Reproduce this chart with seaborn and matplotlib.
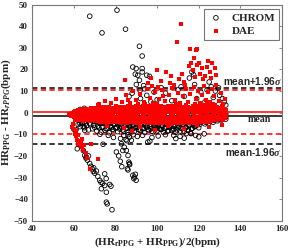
import matplotlib
matplotlib.use("Agg")
import matplotlib.pyplot as plt
import seaborn as sns
import pandas as pd

# ---------------- data ----------------
# DAE dense band: two staggered column sets with several y layers
dae_band_xa = [60, 61, 62, 63, 64, 65, 66, 67, 68, 69, 70, 71, 72, 73, 74, 75, 76, 77, 78, 79,
               80, 81, 82, 83, 84, 85, 86, 87, 88, 89, 90, 91, 92, 93, 94, 95, 96, 97, 98, 99,
               100, 101, 102, 103, 104, 105, 106, 107, 108, 109, 110, 111, 112, 113, 114, 115, 116, 117, 118, 119,
               120, 121, 122, 123, 124, 125, 126, 127, 128, 129, 130, 131, 132, 133]
dae_band_a1 = [0.3, 0.8, 1.2, 0.5, 1.5, 0.9, 1.8, 1.1, 2.0, 1.4,
               2.2, 1.0, 1.9, 2.6, 1.3, 2.4, 1.7, 2.8, 1.5, 2.3,
               2.9, 1.6, 2.5, 1.2, 2.7, 2.0, 3.1, 1.8, 2.6, 2.2,
               3.0, 1.7, 2.4, 2.9, 1.5, 2.6, 3.2, 2.0, 2.7, 1.9,
               2.8, 2.3, 3.3, 1.8, 2.5, 3.0, 2.1, 2.9, 1.6, 2.6,
               3.1, 2.2, 2.8, 1.9, 3.4, 2.4, 2.0, 3.0, 2.6, 3.3,
               2.1, 2.9, 3.5, 2.3, 2.7, 3.1, 2.0, 2.8, 3.4, 2.5,
               2.2, 2.9, 1.8, 1.4]
dae_band_a2 = [-0.8, -0.5, -1.2, -0.3, -0.9, 0.1, -0.6, -1.0, 0.2, -0.4,
               -0.7, 0.3, -0.5, -0.1, 0.4, -0.8, 0.0, -0.3, 0.5, -0.6,
               0.2, -0.4, 0.6, -0.2, 0.0, 0.7, -0.5, 0.3, -0.1, 0.8,
               -0.3, 0.5, 0.1, -0.6, 0.9, 0.0, -0.2, 0.6, -0.4, 0.4,
               0.0, 0.7, -0.3, 0.5, -0.1, 0.9, 0.2, -0.5, 0.6, 0.1,
               -0.2, 0.8, 0.3, -0.4, 0.6, 0.0, 1.0, -0.1, 0.4, 0.7,
               0.2, -0.3, 0.9, 0.5, -0.2, 0.6, 1.1, 0.0, 0.8, 0.3,
               0.5, -0.2, 0.4, 0.0]
dae_band_a3 = [-2.0, -2.4, -1.8, -2.8, -2.2, -1.6, -3.0, -2.3, -1.9, -2.9,
               -2.5, -3.3, -2.0, -3.0, -2.6, -3.6, -2.2, -3.1, -2.7, -3.8,
               -2.4, -3.5, -2.9, -4.0, -2.6, -3.3, -3.9, -2.8, -4.2, -3.1,
               -3.7, -2.7, -4.1, -3.2, -3.8, -4.4, -2.9, -3.5, -4.0, -3.3,
               -4.3, -3.0, -3.7, -4.5, -3.2, -3.9, -2.8, -4.1, -3.4, -4.6,
               -3.1, -3.8, -4.2, -2.9, -3.6, -4.4, -3.3, -3.9, -2.7, -3.5,
               -4.0, -3.2, -2.6, -3.7, -3.0, -2.4, -3.4, -2.8, -2.2, -3.1,
               -2.5, -1.9, -2.7, -1.5]
dae_band_xb = [60.5, 61.5, 62.5, 63.5, 64.5, 65.5, 66.5, 67.5, 68.5, 69.5,
               70.5, 71.5, 72.5, 73.5, 74.5, 75.5, 76.5, 77.5, 78.5, 79.5,
               80.5, 81.5, 82.5, 83.5, 84.5, 85.5, 86.5, 87.5, 88.5, 89.5,
               90.5, 91.5, 92.5, 93.5, 94.5, 95.5, 96.5, 97.5, 98.5, 99.5,
               100.5, 101.5, 102.5, 103.5, 104.5, 105.5, 106.5, 107.5, 108.5, 109.5,
               110.5, 111.5, 112.5, 113.5, 114.5, 115.5, 116.5, 117.5, 118.5, 119.5,
               120.5, 121.5, 122.5, 123.5, 124.5, 125.5, 126.5, 127.5, 128.5, 129.5,
               130.5, 131.5, 132.5]
dae_band_b1 = [0.6, 0.0, 0.9, 0.3, 1.0, 0.4, 1.2, 0.5, 1.3, 0.7,
               1.1, 0.6, 1.5, 0.8, 1.7, 1.0, 1.4, 0.9, 1.9, 1.2,
               1.6, 1.0, 1.8, 1.3, 2.1, 1.1, 1.5, 2.0, 1.2, 1.7,
               1.4, 2.1, 1.0, 1.8, 1.3, 2.2, 1.6, 1.1, 2.0, 1.5,
               1.2, 1.9, 1.5, 2.3, 1.1, 1.7, 2.4, 1.3, 2.0, 1.6,
               1.8, 1.3, 2.2, 1.5, 1.0, 2.1, 1.6, 2.3, 1.4, 1.9,
               1.5, 2.0, 1.7, 1.2, 2.2, 1.6, 1.9, 1.3, 2.0, 1.7,
               1.4, 1.0, 0.9]
dae_band_b2 = [-1.5, -1.1, -1.9, -1.3, -1.6, -1.0, -1.8, -1.4, -1.2, -2.0,
               -1.6, -2.2, -1.3, -1.9, -1.5, -2.4, -1.7, -2.1, -1.4, -2.6,
               -1.8, -2.3, -1.5, -2.7, -2.0, -1.6, -2.5, -1.9, -2.8, -2.2,
               -1.7, -2.6, -2.1, -1.5, -2.9, -2.3, -1.8, -2.7, -2.0, -2.4,
               -1.9, -2.8, -2.2, -1.6, -2.5, -3.0, -2.1, -1.7, -2.6, -2.3,
               -2.0, -1.5, -2.7, -2.2, -1.8, -2.4, -2.9, -1.6, -2.1, -2.5,
               -1.7, -2.3, -1.9, -1.4, -2.0, -1.6, -2.2, -1.5, -1.8, -1.3,
               -1.6, -1.2, -0.9]
dae_band_b3 = [-3.2, -2.6, -3.5, -2.0, -3.8, -2.9, -3.3, -3.9, -2.7, -3.6,
               -4.0, -3.0, -4.3, -3.4, -4.1, -3.7, -4.5, -3.2, -4.2, -3.5,
               -4.4, -3.8, -4.6, -3.3, -4.1, -4.7, -3.6, -4.3, -3.9, -4.8,
               -4.2, -4.9, -3.7, -4.5, -4.0, -4.8, -4.3, -5.0, -3.9, -4.6,
               -5.0, -4.1, -4.7, -3.8, -4.9, -4.4, -5.1, -3.9, -4.6, -4.2,
               -4.8, -4.3, -5.0, -4.5, -4.0, -4.7, -4.2, -4.9, -4.4, -3.8,
               -4.3, -3.7, -4.5, -3.9, -4.1, -3.5, -3.8, -3.3, -3.6, -3.0,
               -2.8, -3.2, -2.5]
# DAE scattered points outside the band
dae_out_x = [111.5, 109.4, 115.8, 118.6, 119.2, 117.5, 116.5,
             115.5, 117.0, 119.0, 120.5, 121.5, 123.0, 124.0, 125.5, 126.5, 127.9, 122.0, 118.0, 126.0, 128.5, 120.0, 124.5,
             99.8, 104.3, 84.4, 97.0, 102.0, 106.5, 108.0, 100.5, 95.5, 110.5, 113.0, 112.0,
             72.0, 71.6, 75.0, 78.0, 80.0, 83.0, 85.0, 87.0, 88.5, 90.0, 92.0, 93.5, 95.0, 96.5, 98.0, 99.0,
             101.0, 102.5, 104.0, 105.5, 107.0, 108.5, 110.0, 111.0, 112.5, 114.0, 115.0, 116.0, 117.5, 118.5,
             119.5, 120.5, 121.5, 122.5, 123.5, 124.5, 125.5, 126.5, 127.5, 128.5, 129.5, 130.5, 131.5, 132.5,
             106.0, 113.5, 103.0, 97.5, 91.0, 86.0, 94.0, 100.0, 109.0, 118.0, 124.0, 127.0,
             59.6, 59.2, 60.0, 60.4, 60.8, 61.0, 61.5, 62.0, 62.3, 62.8, 63.2, 63.5, 64.0, 64.4, 65.0, 63.8, 61.8,
             68.0, 71.6, 67.5, 66.5, 65.8,
             76.0, 84.0, 92.0, 105.0, 113.0, 119.0, 125.0, 88.0, 99.0, 131.0, 58.5, 59.0, 57.8]
dae_out_y = [40.9, 32.9, 29.6, 28.8, 29.5, 25.4, 23.0,
             21.5, 19.5, 22.0, 18.0, 20.5, 17.0, 21.0, 19.0, 22.8, 20.8, 15.5, 16.5, 16.0, 17.5, 23.0, 24.0,
             19.9, 18.8, 15.0, 16.0, 14.5, 17.0, 13.0, 12.0, 13.5, 15.5, 14.0, 18.0,
             4.0, 3.4, 5.5, 4.5, 6.5, 5.0, 8.0, 4.5, 10.0, 6.0, 8.5, 5.0, 11.0, 7.0, 4.5, 9.5,
             6.5, 10.5, 5.5, 8.0, 11.5, 6.0, 9.0, 4.5, 7.5, 11.0, 5.0, 8.5, 12.0, 6.5,
             10.0, 4.5, 8.0, 12.5, 6.0, 9.5, 5.0, 11.0, 7.5, 13.0, 5.5, 9.0, 4.0, 6.5,
             13.5, 13.0, 7.5, 12.5, 4.0, 6.0, 3.8, 4.0, 4.0, 4.0, 3.8, 4.2,
             -5.1, -6.5, -7.5, -9.7, -8.5, -11.0, -12.5, -10.5, -13.5, -14.4, -15.5, -13.0, -16.0, -17.5, -15.0, -12.0, -14.5,
             -14.4, -21.3, -26.0, -21.0, -18.5,
             -6.0, -7.0, -6.5, -6.0, -7.5, -5.8, -6.5, -8.5, -7.8, -5.5, -1.5, 0.0, -0.8]

# CHROM core cloud
chrom_core_xa = [62, 63, 64, 65, 66, 67, 68, 69, 70, 71, 72, 73, 74, 75, 76, 77, 78, 79, 80, 81,
                 82, 83, 84, 85, 86, 87, 88, 89, 90, 91, 92, 93, 94, 95, 96, 97, 98, 99, 100, 101,
                 102, 103, 104, 105, 106, 107, 108, 109, 110, 111, 112, 113, 114, 115, 116, 117, 118, 119, 120, 121,
                 122, 123, 124, 125, 126, 127, 128, 129, 130, 131, 132, 133]
chrom_core_c1 = [-2.0, -3.5, -1.0, -4.5, -2.5, -1.5, -3.0, -2.0, -4.0, -3.0,
                 -4.5, -3.5, -5.0, -4.0, -5.5, -3.8, -4.6, -5.2, -4.0, -5.6,
                 -4.8, -5.4, -4.2, -5.8, -4.5, -5.1, -6.0, -4.4, -5.3, -4.9,
                 -5.7, -4.3, -5.0, -6.2, -4.7, -5.5, -4.1, -5.9, -4.6, -5.2,
                 -6.1, -4.8, -5.4, -4.2, -5.8, -5.0, -6.3, -4.5, -5.6, -5.1,
                 -4.4, -5.9, -4.9, -5.3, -3.8, -4.6, -3.2, -2.8, -3.5, -2.5,
                 -2.0, -3.0, -1.8, -2.6, -1.5, -2.2, -1.2, -2.8, -1.6, -2.4,
                 -1.0, -2.0]
chrom_core_c2 = [-5.5, -6.5, -5.0, -7.0, -6.0, -8.0, -5.5, -7.5, -6.8, -8.5,
                 -7.0, -9.0, -6.5, -8.2, -7.4, -9.3, -6.8, -8.0, -7.2, -8.8,
                 -7.6, -6.9, -8.5, -7.1, -9.0, -6.6, -7.9, -8.7, -6.4, -7.7,
                 -8.3, -7.0, -9.2, -6.7, -8.0, -7.5, -8.9, -6.9, -8.4, -7.3,
                 -7.8, -9.0, -7.1, -8.6, -6.8, -8.2, -7.5, -9.1, -7.0, -8.5,
                 -7.4, -8.8, -6.9, -8.1, -9.5, -7.2, -6.5, -5.8, -7.0, -4.5,
                 -4.0, -5.2, -3.6, -4.8, -3.2, -4.4, -3.0, -3.8, -2.7, -3.4,
                 -2.5, -3.0]
chrom_core_c3 = [0.5, 1.5, -0.5, 2.0, 1.0, 0.0, 1.6, 1.2, -0.8, 1.0,
                 0.2, 0.8, -0.2, 0.5, -0.3, 0.9, -0.6, 0.4, -0.1, 1.0,
                 -0.4, 0.3, 0.6, 0.9, -0.1, 0.6, 0.4, 1.0, -0.7, 0.2,
                 0.8, 0.2, 1.1, -0.5, 0.4, 0.7, 0.9, -0.3, 0.2, 0.5,
                 1.0, -0.2, 0.5, 0.8, 1.2, -0.6, 0.3, 0.9, 0.3, 1.1,
                 0.6, 0.7, -0.4, 0.3, 1.2, 0.0, 0.6, 0.4, 0.9, 0.2,
                 0.5, -0.5, 0.8, 0.3, -0.8, 0.4, 0.1, 0.7, -0.3, 0.4,
                 0.2, -0.6]
chrom_core_xb = [62.5, 63.5, 64.5, 65.5, 66.5, 67.5, 68.5, 69.5, 70.5, 71.5,
                 72.5, 73.5, 74.5, 75.5, 76.5, 77.5, 78.5, 79.5, 80.5, 81.5,
                 82.5, 83.5, 84.5, 85.5, 86.5, 87.5, 88.5, 89.5, 90.5, 91.5,
                 92.5, 93.5, 94.5, 95.5, 96.5, 97.5, 98.5, 99.5, 100.5, 101.5,
                 102.5, 103.5, 104.5, 105.5, 106.5, 107.5, 108.5, 109.5, 110.5, 111.5,
                 112.5, 113.5, 114.5, 115.5, 116.5, 117.5, 118.5, 119.5, 120.5, 121.5,
                 122.5, 123.5, 124.5, 125.5, 126.5, 127.5, 128.5, 129.5, 130.5, 131.5,
                 132.5]
chrom_core_c4 = [-3.0, -4.2, -2.5, -5.2, -3.6, -4.8, -2.8, -5.8, -3.4, -6.2,
                 -5.0, -6.8, -4.2, -7.5, -5.6, -6.4, -7.8, -5.2, -6.9, -4.6,
                 -6.5, -8.0, -5.5, -7.2, -6.0, -8.4, -5.7, -7.0, -6.6, -8.1,
                 -6.1, -7.4, -5.3, -7.9, -6.4, -8.6, -5.8, -7.1, -6.3, -7.7,
                 -5.9, -7.3, -6.7, -8.3, -5.6, -7.6, -6.0, -8.0, -6.6, -7.2,
                 -5.7, -6.9, -8.2, -6.1, -7.4, -5.0, -6.3, -4.2, -5.5, -3.6,
                 -3.3, -4.5, -2.6, -3.9, -2.3, -3.5, -2.0, -3.2, -1.8, -2.6,
                 -1.4]
# CHROM scattered points outside the core
chrom_out_x = [67.6, 73.5, 80.7, 84.8, 91.5, 92.8,
               88.3, 89.9, 92.8, 92.8, 90.7, 89.5, 91.5, 96.3, 91.8, 93.5, 94.0, 90.0, 88.0, 95.0, 86.5, 92.0, 97.0, 95.0,
               116.7, 117.5, 115.5, 125.0, 126.0, 118.0, 110.0, 104.0, 121.0, 128.0, 131.4, 132.2, 130.0, 127.0,
               113.0, 100.0, 107.0, 123.0, 119.0, 102.0, 98.5, 111.5, 124.0, 129.5, 133.0,
               60.0, 61.0, 65.2, 62.9, 64.5, 74.0, 82.4, 86.7, 87.6, 95.5, 96.5, 84.0, 85.5, 88.5, 90.5, 93.0,
               97.5, 100.5, 104.0, 108.0, 111.0, 114.0, 116.3, 118.5, 120.0, 122.6, 109.0, 113.0, 76.5, 79.0, 72.5,
               61.6, 65.2, 65.8, 66.5, 66.0, 67.6, 68.2, 68.8, 69.3, 70.0, 69.5, 70.8, 71.5, 72.4, 73.0, 73.8,
               73.2, 74.8, 74.8, 75.5, 77.2, 77.8, 75.6, 76.0, 78.3, 75.6, 67.0, 64.5, 63.5,
               82.8, 83.5, 84.2, 85.2, 86.0, 86.4, 86.8, 86.0, 85.7, 86.7, 88.3, 89.1, 89.9, 88.8, 89.5,
               80.4, 81.5, 82.3, 83.0, 85.0, 86.0]
chrom_out_y = [44.6, 36.9, 47.4, 38.6, 30.7, 26.2,
               21.1, 20.4, 20.4, 18.8, 17.3, 17.8, 15.0, 16.8, 10.3, 12.5, 11.0, 13.0, 9.0, 8.0, 7.5, 6.5, 5.0, 17.3,
               18.8, 17.5, 16.0, 14.2, 12.0, 13.0, 10.5, 9.0, 9.5, 10.0, 6.5, 4.9, 8.0, 7.0,
               7.5, 6.0, 5.5, 5.0, 6.5, 11.5, 9.5, 12.0, 10.5, 11.5, 3.5,
               -7.7, -7.9, -8.2, -5.0, -6.5, -14.6, -12.0, -11.3, -12.8, -13.6, -13.2, -10.5, -13.0, -10.2, -11.0, -10.5,
               -11.5, -10.8, -10.2, -10.5, -11.0, -9.7, -9.7, -10.5, -11.2, -9.8, -12.0, -11.8, -10.5, -11.5, -10.0,
               -16.7, -19.8, -21.0, -22.0, -20.5, -23.5, -24.8, -26.0, -27.2, -28.0, -25.5, -27.0, -29.5, -31.3, -32.2, -32.7,
               -35.2, -33.7, -28.3, -30.5, -33.2, -34.0, -41.4, -42.2, -44.9, -36.8, -20.0, -17.5, -15.5,
               -14.4, -17.5, -16.0, -17.5, -19.8, -22.9, -24.0, -26.5, -25.9, -23.6, -29.0, -29.8, -31.3, -30.5, -28.5,
               -18.2, -20.0, -22.5, -25.0, -12.5, -10.2]

# Bland-Altman reference lines (mean and mean +/- 1.96 sigma)
chrom_mean, chrom_upper, chrom_lower = -1.55, 11.5, -14.65
dae_mean, dae_upper, dae_lower = 0.4, 10.45, -9.9

series_names = ["CHROM", "DAE"]
x_ticks = [40, 60, 80, 100, 120, 140, 160]
y_ticks = [-50, -40, -30, -20, -10, 0, 10, 20, 30, 40, 50]

# ---------------- assemble ----------------
chrom_x = chrom_core_xa * 3 + chrom_core_xb + chrom_out_x
chrom_y = chrom_core_c1 + chrom_core_c2 + chrom_core_c3 + chrom_core_c4 + chrom_out_y
dae_x = dae_band_xa * 3 + dae_band_xb * 3 + dae_out_x
dae_y = dae_band_a1 + dae_band_a2 + dae_band_a3 + dae_band_b1 + dae_band_b2 + dae_band_b3 + dae_out_y
chrom_df = pd.DataFrame({"x": chrom_x, "y": chrom_y})
dae_df = pd.DataFrame({"x": dae_x, "y": dae_y})

# ---------------- style ----------------
sns.set_style("white")
plt.rcParams["font.family"] = ["Liberation Serif", "DejaVu Serif"]
plt.rcParams["mathtext.fontset"] = "custom"
plt.rcParams["mathtext.rm"] = "Liberation Serif:bold"
plt.rcParams["mathtext.bf"] = "Liberation Serif:bold"
plt.rcParams["mathtext.it"] = "Liberation Serif:bold:italic"

fig = plt.figure(figsize=(2.91, 2.52), dpi=100)
ax = fig.add_axes([0.111, 0.124, 0.858, 0.858])

for val, col, ls in [(chrom_mean, "black", "-"), (dae_mean, "red", "-"),
                     (chrom_upper, "black", "--"), (chrom_lower, "black", "--"),
                     (dae_upper, "red", "--"), (dae_lower, "red", "--")]:
    ax.axhline(val, color=col, lw=1.1, ls=ls, dashes=(3.5, 2.2) if ls == "--" else (None, None), zorder=1)

sns.scatterplot(data=chrom_df, x="x", y="y", ax=ax, marker="o", s=11,
                facecolor="none", edgecolor="black", linewidth=0.6, zorder=2,
                label=series_names[0])
sns.scatterplot(data=dae_df, x="x", y="y", ax=ax, marker="s", s=5.5,
                color="red", linewidth=0, zorder=3, label=series_names[1])

ax.set_xlim(40, 160)
ax.set_ylim(-50, 50)
ax.set_xticks(x_ticks)
ax.set_yticks(y_ticks)
for lab in ax.get_xticklabels() + ax.get_yticklabels():
    lab.set_fontweight("bold")
    lab.set_fontsize(6.5)
ax.tick_params(direction="in", length=2.5, width=0.6, color="#777777",
               top=True, right=True, pad=3)
for sp in ax.spines.values():
    sp.set_color("#777777")
    sp.set_linewidth(0.8)

ax.set_xlabel(r"(HR$_{\rm rPPG}$ + HR$_{\rm PPG}$)/2(bpm)", fontsize=8, fontweight="bold", labelpad=2)
ax.set_ylabel(r"HR$_{\rm PPG}$ - HR$_{\it rPPG}$(bpm)", fontsize=8, fontweight="bold", labelpad=1)

ax.text(160, 13.0, r"mean+1.96$\sigma$", ha="right", va="baseline", fontsize=7.2,
        fontweight="bold", family="Liberation Sans", zorder=5)
ax.text(149.2, -4.4, "mean", ha="center", va="baseline", fontsize=7.2,
        fontweight="bold", zorder=5)
ax.text(160, -20.1, r"mean-1.96$\sigma$", ha="right", va="baseline", fontsize=7.2,
        fontweight="bold", family="Liberation Sans", zorder=5)

leg = ax.legend(loc="upper right", bbox_to_anchor=(0.988, 0.979), borderaxespad=0,
                frameon=True, fancybox=False, edgecolor="#777777", framealpha=1,
                prop={"family": "Liberation Serif", "weight": "bold", "size": 8},
                handletextpad=0.7, borderpad=0.35, labelspacing=0.35, handlelength=1.4,
                markerscale=1.0)
leg.get_frame().set_linewidth(0.8)

fig.savefig("out.png", dpi=100)
